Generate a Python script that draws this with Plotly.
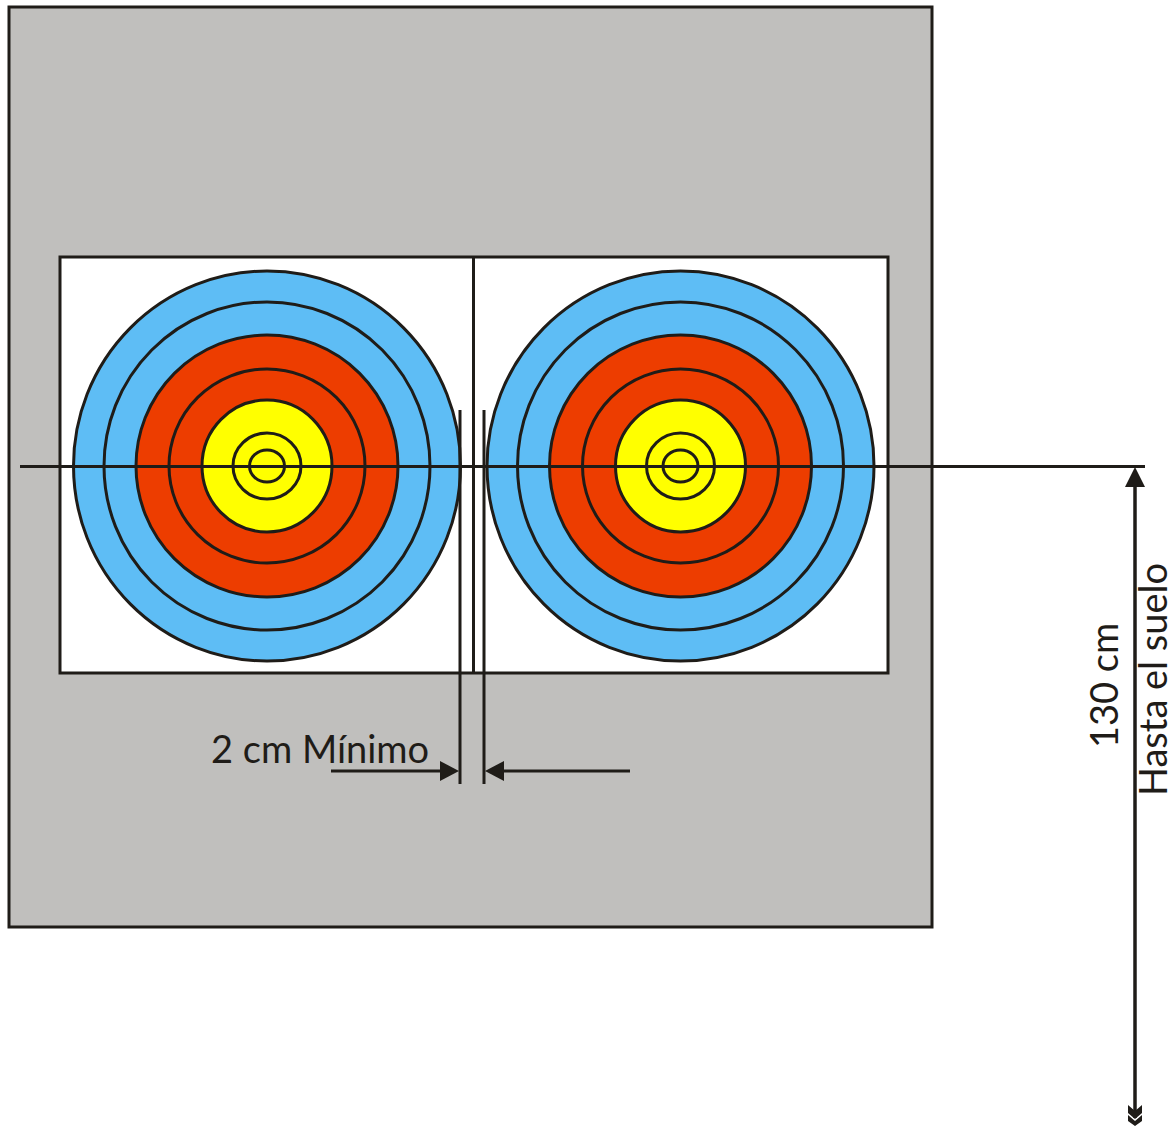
import plotly.graph_objects as go

W, H = 1176, 1126
INK = "#1F1C18"
BOARD = [9, 7, 932, 927]
FACE = [60, 257, 888, 673]
CENTERS_X = [267, 680.5]
CENTER_Y = 466
RING_RX = [193.5, 163, 131, 98, 65, 34, 17.5]
RING_RY = [195, 164, 131, 97, 66, 33, 16]
RING_COLORS = ["#5EBDF5", "#5EBDF5", "#ED3D00", "#ED3D00", "#FFFF00", "#FFFF00", "#FFFF00"]
SEGMENTS = [
    (473.5, 257, 473.5, 673, 3),
    (460, 410, 460, 784, 3),
    (484, 410, 484, 784, 3),
    (20, 466.5, 1145, 466.5, 3),
    (1135, 480, 1135, 1118, 3.5),
    (331, 771, 445, 771, 3),
    (500, 771, 630, 771, 3),
]
HEADS = [
    [(1135, 467), (1125, 487), (1145, 487)],
    [(459, 771), (440, 761), (440, 781)],
    [(485, 771), (504, 761), (504, 781)],
    [(1135, 1111), (1142, 1105), (1142, 1113), (1135, 1119), (1128, 1113), (1128, 1105)],
    [(1135, 1121), (1142, 1115), (1142, 1121), (1135, 1126), (1128, 1121), (1128, 1115)],
]
LABELS = [
    ("2 cm Mínimo", 320, 748, 0, 38),
    ("130 cm", 1103, 686, -90, 38),
    ("Hasta el suelo", 1152, 680, -90, 38),
]

shapes = []
def rect(b, fill):
    shapes.append(dict(type="rect", x0=b[0], y0=b[1], x1=b[2], y1=b[3], fillcolor=fill,
                       line=dict(color=INK, width=3)))
rect(BOARD, "#C0BFBD")
rect(FACE, "#FFFFFF")
for cx in CENTERS_X:
    for rx, ry, col in zip(RING_RX, RING_RY, RING_COLORS):
        shapes.append(dict(type="circle", x0=cx - rx, x1=cx + rx, y0=CENTER_Y - ry, y1=CENTER_Y + ry,
                           fillcolor=col, line=dict(color=INK, width=3)))
for x0, y0, x1, y1, w in SEGMENTS:
    shapes.append(dict(type="line", x0=x0, y0=y0, x1=x1, y1=y1, line=dict(color=INK, width=w)))
for pts in HEADS:
    path = "M " + " L ".join(f"{x} {y}" for x, y in pts) + " Z"
    shapes.append(dict(type="path", path=path, fillcolor=INK, line=dict(width=0)))

annotations = [
    dict(text=t, x=x, y=y, xref="x", yref="y", textangle=a, showarrow=False,
         font=dict(family="Lato, sans-serif", size=s, color=INK), xanchor="center", yanchor="middle")
    for t, x, y, a, s in LABELS
]

fig = go.Figure()
fig.update_layout(
    width=W, height=H, margin=dict(l=0, r=0, t=0, b=0), showlegend=False,
    paper_bgcolor="white", plot_bgcolor="white", shapes=shapes, annotations=annotations,
    xaxis=dict(range=[0, W], visible=False, fixedrange=True),
    yaxis=dict(range=[H, 0], visible=False, fixedrange=True),
)
fig.write_html("out.html", config=dict(displayModeBar=False),
               post_script="document.body.style.margin='0';document.body.style.overflow='hidden';")
